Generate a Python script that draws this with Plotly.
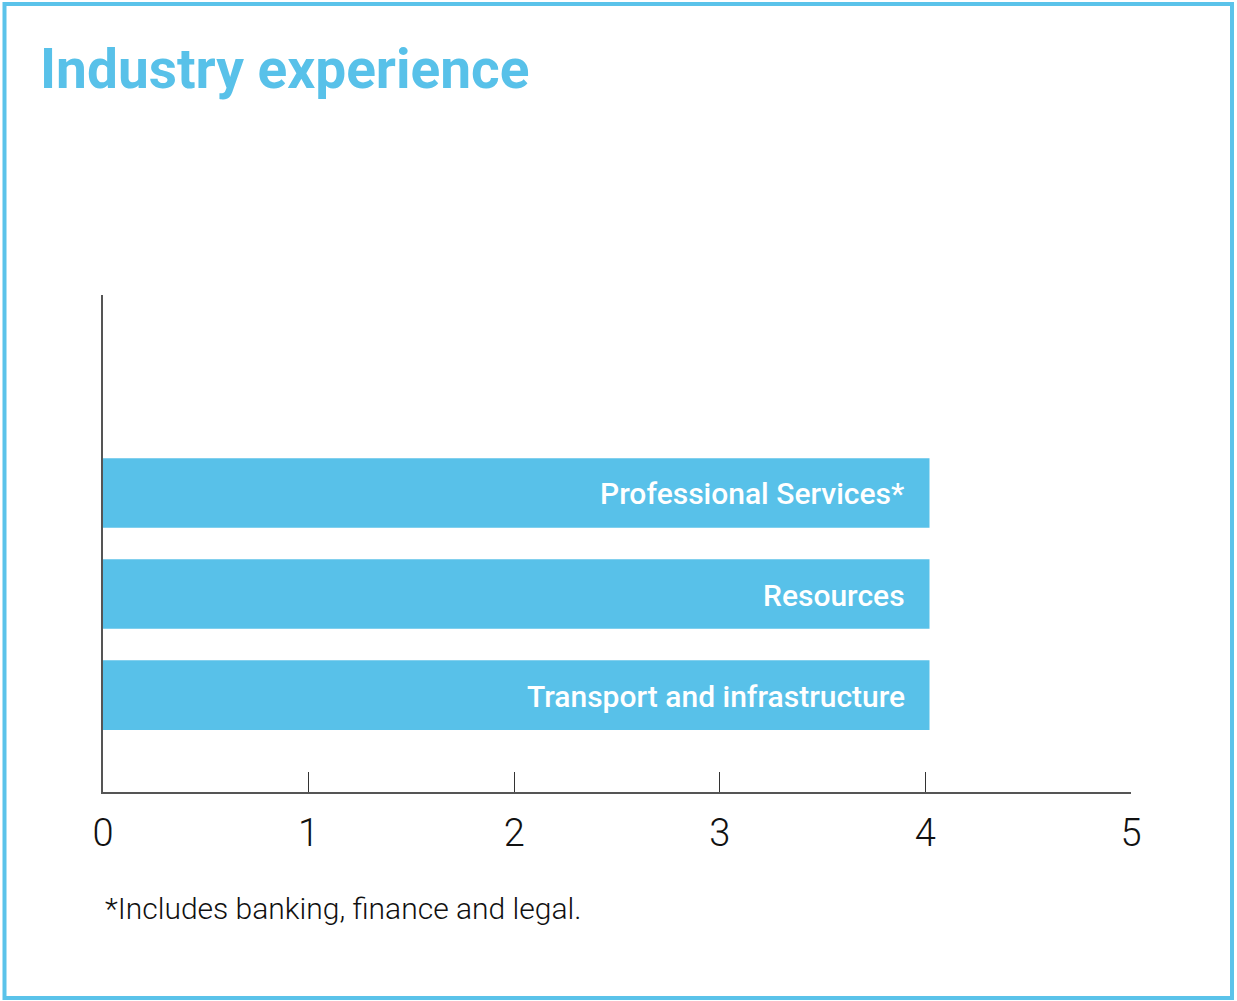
import plotly.graph_objects as go

# Data
categories = ["Transport and infrastructure", "Resources", "Professional Services*"]
values = [4.02, 4.02, 4.02]
x_ticks = [0, 1, 2, 3, 4, 5]
title_text = "Industry experience"
footnote_text = "*Includes banking, finance and legal."

BLUE = "#58C1E9"
W, H = 1237, 1001
# target pixel positions of the plot area
PX_L, PX_R, PX_T, PX_B = 103, 1131, 295, 792
L, T = PX_L, PX_T
R, B = W - PX_R, H - PX_B
pw, ph = PX_R - PX_L, PX_B - PX_T

fig = go.Figure()
fig.add_trace(go.Bar(
    x=values, y=list(range(len(categories))), orientation="h",
    width=0.69, marker=dict(color=BLUE, line=dict(width=0)),
    hoverinfo="skip", showlegend=False,
))

annotations = []
for i, (c, v) in enumerate(zip(categories, values)):
    annotations.append(dict(
        x=v, y=i, xref="x", yref="y", text=c, showarrow=False,
        xanchor="right", yanchor="middle", xshift=-23, yshift=-1,
        font=dict(family="Roboto", size=30, color="white", weight=500),
    ))
annotations.append(dict(
    x=0, y=(PX_B - 909) / ph, xref="paper", yref="paper", text=footnote_text,
    showarrow=False, xanchor="left", yanchor="middle",
    font=dict(family="Roboto", size=30, color="#111", weight=300),
))

fig.update_layout(
    width=W, height=H,
    margin=dict(l=L, r=R, t=T, b=B, pad=0),
    paper_bgcolor="white", plot_bgcolor="white",
    title=dict(text=title_text, x=40 / W, xanchor="left", xref="container",
               y=1 - 69 / H, yanchor="middle", yref="container",
               font=dict(family="Roboto", size=55, color=BLUE, weight=700)),
    xaxis=dict(range=[0, 5], tickvals=x_ticks, ticktext=[str(t) for t in x_ticks],
               showgrid=False, zeroline=False, showline=True, linecolor="#555",
               linewidth=2, ticks="inside", ticklen=20, tickwidth=1, tickcolor="#333",
               tickfont=dict(family="Roboto", size=38, color="#111", weight=300),
               ticklabelstandoff=6, fixedrange=True),
    yaxis=dict(range=[-0.96, 3.96], showgrid=False, zeroline=False, showline=True,
               linecolor="#555", linewidth=2, showticklabels=False, ticks="",
               fixedrange=True),
    annotations=annotations,
    shapes=[dict(type="rect", xref="paper", yref="paper",
                 x0=(4.5 - PX_L) / pw, x1=(1232 - PX_L) / pw,
                 y0=(PX_B - 998) / ph, y1=(PX_B - 4) / ph,
                 line=dict(color="#5BC3EA", width=4), fillcolor="rgba(0,0,0,0)",
                 layer="below")],
)

fig.write_html(
    "out.html",
    config={"displayModeBar": False},
    post_script="document.body.style.margin='0';document.body.style.overflow='hidden';",
)
